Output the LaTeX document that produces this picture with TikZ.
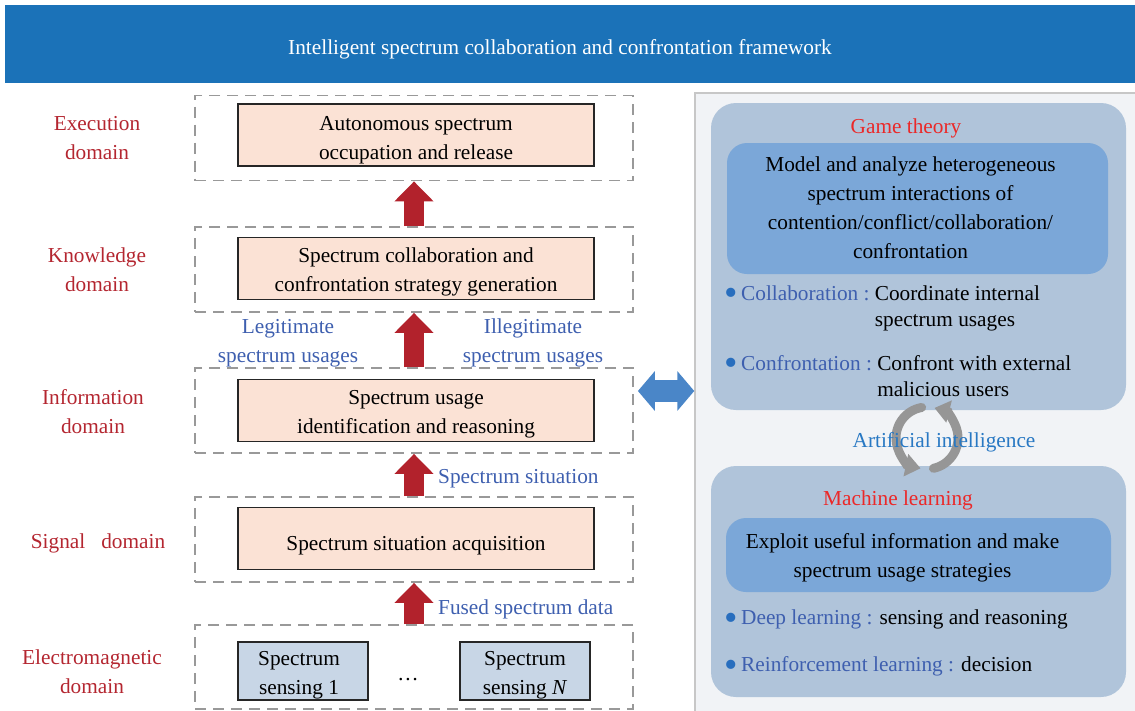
\documentclass[tikz,border=0pt]{standalone}
\usepackage{fontspec}
\setmainfont{Liberation Serif}
\usetikzlibrary{positioning,arrows.meta}

\definecolor{hdrblue}{RGB}{27,114,184}
\definecolor{domred}{RGB}{180,38,48}
\definecolor{flowblue}{RGB}{62,95,175}
\definecolor{aiblue}{RGB}{40,120,195}
\definecolor{gtred}{RGB}{235,40,40}
\definecolor{peach}{RGB}{251,226,213}
\definecolor{sense}{RGB}{200,214,230}
\definecolor{arrred}{RGB}{178,34,44}
\definecolor{arrblue}{RGB}{74,134,200}
\definecolor{panelbg}{RGB}{241,243,246}
\definecolor{outerbg}{RGB}{176,196,218}
\definecolor{innerbg}{RGB}{123,167,216}
\definecolor{dotblue}{RGB}{40,110,190}
\definecolor{cycgray}{RGB}{150,150,150}

\newcommand{\bulletlabel}[1]{\textcolor{dotblue}{\raisebox{-0.26em}{\scalebox{1.8}{\textbullet}}}\,\textcolor{flowblue}{#1 :}}
\newcommand{\boxtext}[3]{\hspace*{#1}\raisebox{#2}[\height][\depth]{\begin{tabular}{@{}c@{}}#3\end{tabular}}}

\begin{document}
\begin{tikzpicture}[x=1pt,y=-1pt,
    every node/.style={font=\fontsize{21.3}{29}\selectfont, inner sep=0pt},
    band/.style={fill=hdrblue, minimum width=1130pt, minimum height=78pt},
    domainbox/.style={draw=black!40, dash pattern=on 11pt off 7pt, line width=1.8pt,
                      minimum width=438pt, minimum height=85pt},
    taskbox/.style={draw=black!85, line width=1.6pt, fill=peach,
                    minimum width=356pt, minimum height=62pt},
    sensebox/.style={draw=black!85, line width=1.6pt, fill=sense,
                     minimum width=130pt, minimum height=58pt},
    domainlabel/.style={text=domred, align=center},
    flow/.style={text=flowblue, align=center},
    upflow/.style={draw=arrred, line width=20pt, -{Triangle[width=38pt,length=20pt]}},
    dblarrow/.style={draw=arrblue, line width=22pt,
                     {Triangle[width=39pt,length=17pt]}-{Triangle[width=39pt,length=17pt]}},
    panel/.style={draw=black!22, line width=1.5pt, fill=panelbg,
                  minimum width=450pt, minimum height=630pt},
    outerbox/.style={fill=outerbg, rounded corners=25pt, minimum width=415pt, minimum height=307pt},
    innerbox/.style={fill=innerbg, rounded corners=20pt,
                     minimum width=381pt, minimum height=131pt},
    aicycle/.style={draw=cycgray, line width=9pt, line cap=round,
                    -{Triangle[width=22pt,length=15pt]}}]
  \useasboundingbox (0,0) rectangle (1135,710);

  \node[band] (band) at (570,44) {};
  \node[text=white] (title) at (560,49) {Intelligent spectrum collaboration and confrontation framework};

  \node[domainbox] (exec) at (414,138) {};
  \node[domainbox] (know) at (414,269.5) {};
  \node[domainbox] (info) at (414,410.5) {};
  \node[domainbox] (sig)  at (414,539.5) {};
  \node[domainbox, minimum height=84pt] (em) at (414,667) {};

  \node[taskbox] (occupy)   at (416,135)   {\boxtext{0pt}{-4pt}{Autonomous spectrum\\occupation and release}};
  \node[taskbox] (strategy) at (416,268.5) {\boxtext{0pt}{-3pt}{Spectrum collaboration and\\confrontation strategy generation}};
  \node[taskbox] (identify) at (416,410.5) {\boxtext{0pt}{-3pt}{Spectrum usage\\identification and reasoning}};
  \node[taskbox] (acquire)  at (416,538.5) {\boxtext{0pt}{-6pt}{Spectrum situation acquisition}};
  \node[sensebox] (sense1) at (303,671) {\boxtext{-8pt}{-3pt}{Spectrum\\sensing 1}};
  \node[sensebox] (senseN) at (525,671) {\boxtext{0pt}{-3pt}{Spectrum\\sensing \textit{N}}};
  \node (dots) at (408,680) {\dots};

  \node[domainlabel] (lexec) at (97,0 |- exec) {Execution\\domain};
  \node[domainlabel] (lknow) at (97,0 |- know) {Knowledge\\domain};
  \node[domainlabel] (linfo) at (93,412) {Information\\domain};
  \node[domainlabel] (lsig)  at (98,543)  {Signal\ \ \ domain};
  \node[domainlabel] (lem)   at (92,672) {Electromagnetic\\domain};

  \draw[upflow] (em.north)   -- (sig.south);
  \draw[upflow] (sig.north)  -- (info.south);
  \draw[upflow] (info.north) -- (know.south);
  \draw[upflow] (know.north) -- (exec.south);

  \node[flow] (legit)   at (288,343) {Legitimate\\spectrum usages};
  \node[flow] (illegit) at (533,343) {Illegitimate\\spectrum usages};
  \node[flow, anchor=west] (situ)  at (438,479) {Spectrum situation};
  \node[flow, anchor=west] (fused) at (438,609) {Fused spectrum data};

  \node[panel] (panel) at (920,408) {};
  \coordinate (link) at ([xshift=4pt,yshift=19.5pt]info.east);
  \draw[dblarrow] (link) -- (link -| panel.west);

  \node[outerbox] (gt) at (918.5,256.5) {};
  \node[text=gtred] (gtname) at (906,128) {Game theory};
  \node[innerbox] (gtin) at (917.5,208.5) {\boxtext{-14pt}{-1pt}{Model and analyze heterogeneous\\spectrum interactions of\\contention/conflict/collaboration/\\confrontation}};
  \node[anchor=west, font=\fontsize{21.3}{26}\selectfont] (collab) at (724,308)
    {\begin{tabular}{@{}l@{\ }l@{}}\bulletlabel{Collaboration} & Coordinate internal\\ & spectrum usages\end{tabular}};
  \node[anchor=west, font=\fontsize{21.3}{26}\selectfont] (confront) at (724,378)
    {\begin{tabular}{@{}l@{\ }l@{}}\bulletlabel{Confrontation} & Confront with external\\ & malicious users\end{tabular}};

  \node[outerbox, minimum height=231pt] (ml) at (918.5,581.5) {};
  \node[text=gtred] (mlname) at (898,500) {Machine learning};
  \node[innerbox, minimum width=385pt, minimum height=74pt] (mlin) at (918.5,555) {\boxtext{-32pt}{-2pt}{Exploit useful information and make\\spectrum usage strategies}};
  \node[anchor=west] (deep)  at (724,620) {\bulletlabel{Deep learning} sensing and reasoning};
  \node[anchor=west] (reinf) at (724,667) {\bulletlabel{Reinforcement learning} decision};

  \coordinate (aic) at (927,438);
  \draw[aicycle] (aic) ++(-100:31) arc[start angle=-100, end angle=-258, radius=31];
  \draw[aicycle] (aic) ++(-282:31) arc[start angle=-282, end angle=-436, radius=31];
  \node[text=aiblue] (ai) at (944,442) {Artificial intelligence};
\end{tikzpicture}
\end{document}
